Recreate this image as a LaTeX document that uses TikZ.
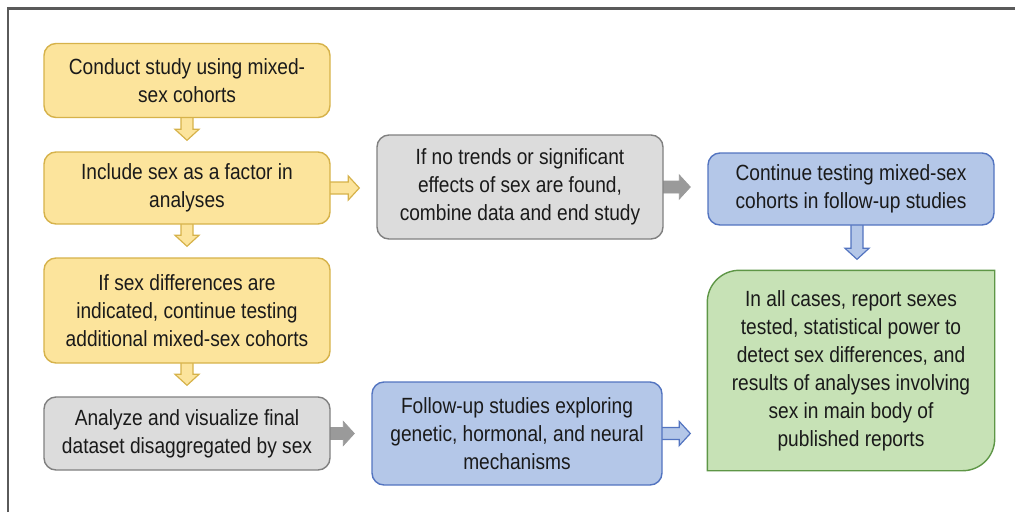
\documentclass[tikz,border=0pt]{standalone}
\usepackage{fontspec}
\setmainfont{Liberation Sans}[FakeStretch=0.87]
\usetikzlibrary{calc,backgrounds}

\definecolor{txt}{HTML}{1A1A1A}
\definecolor{framecol}{HTML}{5A5A5A}
\definecolor{yelfill}{HTML}{FCE49C}
\definecolor{yeldraw}{HTML}{D6B24A}
\definecolor{grayfill}{HTML}{DCDCDC}
\definecolor{graydraw}{HTML}{808080}
\definecolor{grayarrow}{HTML}{9A9A9A}
\definecolor{bluefill}{HTML}{B4C7E8}
\definecolor{bluedraw}{HTML}{5374C0}
\definecolor{greenfill}{HTML}{C7E2B6}
\definecolor{greendraw}{HTML}{5E9646}

% block arrow pointing down, from a start point to just above the target node
\newcommand{\blkdown}[3]{%
  \draw[#1] let \p1=(#2), \p2=(#3.north) in
    (\x1-6pt,\y1+2pt) -- (\x1-6pt,\y2+22pt) -- (\x1-12pt,\y2+22pt) --
    (\x1,\y2+11pt) -- (\x1+12pt,\y2+22pt) -- (\x1+6pt,\y2+22pt) --
    (\x1+6pt,\y1+2pt) -- cycle;}
% block arrow pointing right, from a start point to just left of the target node
\newcommand{\blkright}[3]{%
  \draw[#1] let \p1=(#2), \p2=(#3.west) in
    (\x1-2pt,\y1+6pt) -- (\x2-28pt,\y1+6pt) -- (\x2-28pt,\y1+12pt) --
    (\x2-17pt,\y1) -- (\x2-28pt,\y1-12pt) -- (\x2-28pt,\y1-6pt) --
    (\x1-2pt,\y1-6pt) -- cycle;}

\tikzset{
  box/.style={rectangle, rounded corners=12pt, line width=1.4pt, align=center,
    inner sep=0pt, text=txt, font=\fontsize{22}{28}\selectfont},
  yelbox/.style={box, fill=yelfill, draw=yeldraw},
  graybox/.style={box, fill=grayfill, draw=graydraw},
  bluebox/.style={box, fill=bluefill, draw=bluedraw},
  greenbox/.style={box, draw=none},
  yelarrow/.style={fill=yelfill, draw=yeldraw, line width=1.2pt, line join=miter},
  grayarr/.style={fill=grayarrow, draw=grayarrow, line width=0.8pt, line join=miter},
  bluearrow/.style={fill=bluefill, draw=bluedraw, line width=1.2pt, line join=miter},
}

\begin{document}
\begin{tikzpicture}[x=1pt, y=-1pt]
\useasboundingbox (0,0) rectangle (1015,512);

% outer frame (top and left edges)
\draw[framecol, line width=2.5pt] (8,512) -- (8,8.5) -- (1015,8.5);

% left column
\node[yelbox, minimum width=286pt, minimum height=74pt] (c1) at (187,80.5)
  {Conduct study using mixed-\\sex cohorts};
\node[yelbox, minimum width=286pt, minimum height=72pt] (c2) at (187,188)
  {Include sex as a factor in\\analyses};
\node[yelbox, minimum width=286pt, minimum height=105pt] (c3) at (187,310.5)
  {If sex differences are\\indicated, continue testing\\additional mixed-sex cohorts};
\node[graybox, minimum width=286pt, minimum height=73pt] (c4) at (187,433.5)
  {Analyze and visualize final\\dataset disaggregated by sex};

% middle column
\node[graybox, minimum width=286pt, minimum height=104pt] (c6) at (520,187)
  {If no trends or significant\\effects of sex are found,\\combine data and end study};
\node[bluebox, minimum width=290pt, minimum height=103pt] (c5) at (517,433.5)
  {Follow-up studies exploring\\genetic, hormonal, and neural\\mechanisms};

% right column
\node[bluebox, minimum width=286pt, minimum height=72pt] (c7) at (851,189)
  {Continue testing mixed-sex\\cohorts in follow-up studies};
\node[greenbox, minimum width=286pt, minimum height=199pt] (c8) at (851,370.5)
  {In all cases, report sexes\\tested, statistical power to\\detect sex differences, and\\results of analyses involving\\sex in main body of\\published reports};

\begin{scope}[on background layer]
  % green box with two rounded corners
  \draw[fill=greenfill, draw=greendraw, line width=1.4pt]
    (c8.south west) -- ([yshift=-32pt]c8.north west)
    arc[start angle=180, end angle=90, radius=32pt]
    -- (c8.north east) -- ([yshift=32pt]c8.south east)
    arc[start angle=0, end angle=-90, radius=32pt] -- cycle;

  % connectors
  \blkdown{yelarrow}{c1.south}{c2}
  \blkdown{yelarrow}{c2.south}{c3}
  \blkdown{yelarrow}{c3.south}{c4}
  \blkright{yelarrow}{c2.east}{c6}
  \blkright{grayarr}{c6.east}{c7}
  \blkright{grayarr}{c4.east}{c5}
  \blkright{bluearrow}{c5.east}{c8}
  \blkdown{bluearrow}{[xshift=6pt]c7.south}{c8}
\end{scope}
\end{tikzpicture}
\end{document}
